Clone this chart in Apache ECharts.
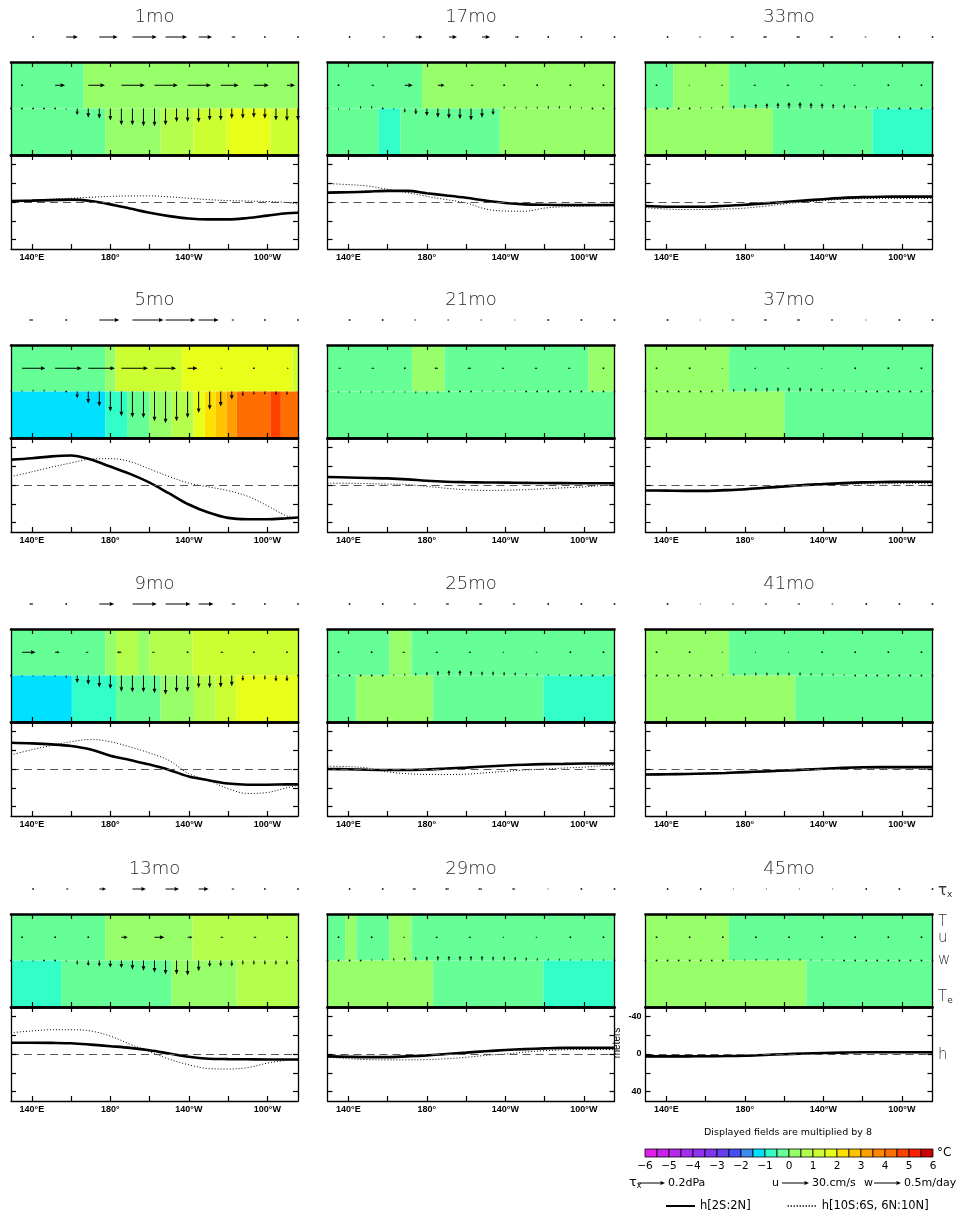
<!DOCTYPE html>
<html><head><meta charset="utf-8">
<script src="https://cdn.jsdelivr.net/npm/echarts@6/dist/echarts.min.js"></script>
<style>html,body{margin:0;padding:0;background:#fff}#c{width:959px;height:1214px}</style>
</head><body><div id="c"></div>
<script>
// ---------------- DATA ----------------
// panel order: row by row (1mo,17mo,33mo / 5mo,21mo,37mo / 9mo,25mo,41mo / 13mo,29mo,45mo)
const PANEL_TITLES = ['1mo','17mo','33mo','5mo','21mo','37mo','9mo','25mo','41mo','13mo','29mo','45mo'];
const LON_MIN = 129.375, LON_MAX = 275.625;
const X_TICKS = [140,160,180,200,220,240,260];
const X_LABELS = [140,180,220,260];
const H_TICKS = [-40,-20,0,20,40];
const H_LABELS = [-40,0,40];
const CBAR_EDGES = [-6,-5.5,-5,-4.5,-4,-3.5,-3,-2.5,-2,-1.5,-1,-0.5,0,0.5,1,1.5,2,2.5,3,3.5,4,4.5,5,5.5,6];
const PALETTE = ['#e11ee6','#cd1ef0','#b928f0','#a52df0','#9132f0','#7d37f0','#6440f0','#4650f0','#3c8cf0','#00e1ff','#32ffc8','#66ff96','#96ff6a','#b4ff4b','#ccff32','#e8ff1a','#ffe100','#ffc300','#ffa000','#ff8700','#ff6e00','#ff4100','#ff1e00','#c80000'];

// sea-surface temperature blocks (upper band) : [lonStart, lonEnd, value]
const T_BLOCKS = [
 [[129.375,166.4,-0.25],[166.4,275.625,0.25]],
 [[129.375,177.6,-0.25],[177.6,275.625,0.25]],
 [[129.375,143.5,-0.25],[143.5,172,0.25],[172,275.625,-0.25]],
 [[129.375,177.4,-0.25],[177.4,182.6,0.25],[182.6,216.6,1.25],[216.6,272.9,1.75],[272.9,275.625,1.25]],
 [[129.375,172.5,-0.25],[172.5,189,0.25],[189,262.3,-0.25],[262.3,275.625,0.25]],
 [[129.375,172,0.25],[172,275.625,-0.25]],
 [[129.375,177.4,-0.25],[177.4,182.9,0.25],[182.9,194.1,0.75],[194.1,199.9,0.25],[199.9,221.8,0.75],[221.8,275.625,1.25]],
 [[129.375,161.1,-0.25],[161.1,172.2,0.25],[172.2,275.625,-0.25]],
 [[129.375,172,0.25],[172,275.625,-0.25]],
 [[129.375,177.4,-0.25],[177.4,221.8,0.25],[221.8,275.625,0.75]],
 [[129.375,138.4,-0.25],[138.4,144,0.25],[144,161.1,-0.25],[161.1,172.2,0.25],[172.2,275.625,-0.25]],
 [[129.375,171.9,0.25],[171.9,275.625,-0.25]]
];
// entrained temperature blocks (lower band)
const TE_BLOCKS = [
 [[129.375,177.4,-0.25],[177.4,205.6,0.25],[205.6,222.3,0.75],[222.3,239.3,1.25],[239.3,261.5,1.75],[261.5,275.625,1.25]],
 [[129.375,155.5,-0.25],[155.5,166.5,-0.75],[166.5,217.2,-0.25],[217.2,275.625,0.25]],
 [[129.375,194.3,0.25],[194.3,245,-0.25],[245,275.625,-0.75]],
 [[129.375,177.4,-1.25],[177.4,188.5,-0.75],[188.5,199.9,-0.25],[199.9,211.2,0.25],[211.2,222.3,0.75],[222.3,228.1,1.75],[228.1,233.7,2.25],[233.7,239.3,2.75],[239.3,244.4,3.25],[244.4,261.5,4.25],[261.5,266.9,4.75],[266.9,275.625,4.25]],
 [[129.375,275.625,-0.25]],
 [[129.375,200.1,0.25],[200.1,275.625,-0.25]],
 [[129.375,160.4,-1.25],[160.4,182.9,-0.75],[182.9,205.6,-0.25],[205.6,222.6,0.25],[222.6,233.7,0.75],[233.7,244.4,1.25],[244.4,275.625,1.75]],
 [[129.375,144,-0.25],[144,183.2,0.25],[183.2,239.5,-0.25],[239.5,275.625,-0.75]],
 [[129.375,205.7,0.25],[205.7,275.625,-0.25]],
 [[129.375,154.9,-0.75],[154.9,211.2,-0.25],[211.2,244.4,0.25],[244.4,275.625,0.75]],
 [[129.375,183.2,0.25],[183.2,239.5,-0.25],[239.5,275.625,-0.75]],
 [[129.375,211.3,0.25],[211.3,275.625,-0.25]]
];

// wind stress tau_x (dPa)
const TAU_LON = [140.625,157.5,174.375,191.25,208.125,225,241.875,258.75,275.625];
const TAU = [
 [0.005,0.087,0.136,0.18,0.16,0.1,0.03,0.008,0.004],
 [0.004,0.02,0.05,0.06,0.06,0.03,0.008,0.004,0.003],
 [-0.005,-0.015,-0.025,-0.03,-0.03,-0.025,-0.015,-0.004,-0.003],
 [-0.03,0.005,0.148,0.23,0.22,0.148,0.02,0.005,0.003],
 [0.004,-0.008,-0.015,-0.015,-0.015,-0.01,-0.005,0.003,0.002],
 [-0.003,-0.01,-0.02,-0.025,-0.025,-0.02,-0.01,-0.003,-0.002],
 [-0.03,0.005,0.11,0.18,0.185,0.11,0.03,0.005,0.003],
 [0.002,-0.005,-0.02,-0.025,-0.025,-0.02,-0.005,-0.002,0.002],
 [-0.002,-0.01,-0.015,-0.02,-0.02,-0.015,-0.005,-0.002,-0.002],
 [0.005,0.02,0.05,0.1,0.1,0.074,0.02,0.005,0.003],
 [0.002,-0.005,-0.025,-0.03,-0.03,-0.025,-0.01,-0.002,0.002],
 [0.002,-0.005,-0.01,-0.01,-0.01,-0.01,-0.005,-0.002,-0.002]
];

// zonal current u (cm/s)
const U_LON = [135,151.875,168.75,185.625,202.5,219.375,236.25,253.125,270];
const U = [
 [1,11,18.5,26,26,26,20,16.7,9],
 [0.5,3,9,7.5,3,0.5,0.5,0.5,0.5],
 [-1,-1.5,-2,-3,-3,-2,-2,-1,-1],
 [26,29.6,29.6,29.6,24,11,2,1,2],
 [3,3,0.5,-4,-4,-3,-3,-3,-1],
 [-0.5,-1,-1.5,-2,-2,-1.5,-1,-1,-0.5],
 [15,5,-3,-5,-3,1,3,1,1],
 [-1,-1,-3,-3,-3,-2,-2,-1,-1],
 [-0.5,-1,-1.5,-1.5,-1.5,-1,-1,-0.5,-0.5],
 [0.5,1,1,7,11,5.5,3,3,1],
 [-1,-1,-2,-3,-3,-2,-2,-1,-1],
 [0,-0.5,-0.5,-1,-1,-1,-0.5,-0.5,0]
];

// vertical velocity w (m/day, positive = upward)
const W_LON = [129.375,135,140.625,146.25,151.875,157.5,163.125,168.75,174.375,180,185.625,191.25,196.875,202.5,208.125,213.75,219.375,225,230.625,236.25,241.875,247.5,253.125,258.75,264.375,270,275.625];
const W = [
 [0,0,0,0.01,0,-0.03,-0.12,-0.17,-0.19,-0.22,-0.31,-0.31,-0.33,-0.33,-0.31,-0.25,-0.25,-0.26,-0.22,-0.22,-0.19,-0.19,-0.17,-0.19,-0.22,-0.23,-0.22],
 [0,-0.03,-0.03,0.05,0.05,-0.02,-0.03,-0.08,-0.11,-0.14,-0.17,-0.19,-0.2,-0.22,-0.17,-0.12,0.04,0.04,0.04,0.04,0.05,0.05,0.05,0.03,-0.02,-0.02,0],
 [0,0.01,-0.01,0.02,0.02,0.03,0.03,0.05,0.06,0.08,0.09,0.1,0.11,0.12,0.12,0.11,0.1,0.09,0.08,0.06,0.05,0.03,0.02,0.01,0.01,0.01,0],
 [0.03,0.03,0.04,0.04,0.03,0,-0.12,-0.22,-0.28,-0.37,-0.46,-0.48,-0.49,-0.55,-0.59,-0.55,-0.49,-0.4,-0.34,-0.28,-0.15,-0.09,-0.06,-0.06,-0.07,-0.07,-0.03],
 [-0.02,-0.03,-0.03,-0.03,-0.03,-0.03,-0.03,-0.03,-0.04,-0.05,-0.04,-0.02,0.01,0.02,0.03,0.03,0.03,0.03,0.02,0.02,0.02,0.02,0.02,0.01,0.01,0.01,0],
 [0,0,0,0,0,0.01,0.02,0.04,0.05,0.06,0.07,0.08,0.08,0.08,0.08,0.07,0.06,0.05,0.04,0.03,0.02,0.01,0.01,0,0,0,0],
 [0,-0.03,-0.03,-0.03,-0.03,-0.05,-0.14,-0.17,-0.22,-0.25,-0.3,-0.31,-0.31,-0.33,-0.35,-0.31,-0.3,-0.23,-0.23,-0.22,-0.2,-0.1,-0.08,-0.08,-0.11,-0.11,-0.01],
 [0,0,0,0.01,0.02,0.02,0.03,0.04,0.05,0.07,0.09,0.1,0.1,0.09,0.08,0.08,0.07,0.06,0.05,0.04,0.03,0.03,0.02,0.02,0.02,0.02,0.01],
 [0,0,0,0,0,0.01,0.02,0.03,0.04,0.05,0.06,0.06,0.06,0.06,0.06,0.05,0.05,0.04,0.03,0.02,0.02,0.01,0.01,0,0,0,0],
 [0,-0.03,-0.03,-0.02,-0.02,-0.03,-0.08,-0.1,-0.11,-0.13,-0.14,-0.17,-0.19,-0.22,-0.26,-0.26,-0.28,-0.2,-0.12,-0.11,-0.11,-0.08,-0.08,-0.08,-0.08,-0.08,-0.01],
 [0.01,0.02,0.02,0.02,0.03,0.04,0.05,0.06,0.07,0.08,0.09,0.09,0.09,0.09,0.09,0.08,0.08,0.07,0.06,0.05,0.04,0.04,0.03,0.03,0.03,0.03,0.01],
 [0,0,0,0,0,0,0.01,0.02,0.03,0.03,0.04,0.04,0.04,0.04,0.04,0.03,0.03,0.03,0.02,0.02,0.01,0.01,0,0,0,0,0]
];

// thermocline depth anomaly h (m)
const H_LON = [129.375,140,150,160,170,180,190,200,210,220,230,240,250,260,270,275.625];
const H_EQ = [
 [-1,-1.5,-2,-2.5,-1,2.5,7,11.5,15,17.5,18.5,18.5,17,14.5,12,11.5],
 [-10,-10.4,-11,-11.8,-11.8,-9.3,-7,-4.5,-1.5,1,2.5,3,3.2,3.2,3.2,3.2],
 [4.3,5,5,5,4,3,1.5,0,-1.5,-3,-4.4,-5.2,-5.6,-5.7,-5.7,-5.7],
 [-27,-28.5,-30.5,-31.4,-27,-19.6,-11.8,-2.5,9,20.7,29.3,35,36.4,36.4,35.4,34.6],
 [-8.5,-8,-7.5,-7,-6,-4.5,-3.5,-3,-2.7,-2.5,-2.3,-2.1,-2,-1.9,-1.9,-1.9],
 [5.8,6,6.2,6.2,5.5,4.5,3,1.5,0,-1,-2,-2.8,-3.2,-3.4,-3.5,-3.5],
 [-28,-27.3,-26.2,-24.4,-20.7,-14.2,-9.5,-4.7,1,8,12,15.5,16.7,16.7,16.4,16.4],
 [0,0.3,0.8,1,1,0.5,-0.5,-1.5,-2.7,-3.7,-4.6,-5.2,-5.5,-5.8,-5.8,-5.8],
 [5.8,5.6,5.3,4.8,4.2,3.3,2.5,1.6,0.7,-0.3,-1.2,-1.8,-2,-2,-2,-2],
 [-12,-12,-11.8,-11.4,-10,-8.3,-6.5,-4,-0.5,3,5,5.4,5.6,5.8,5.8,5.8],
 [2.5,3,3.3,3.3,2.5,1.5,0,-1.5,-3,-4.2,-5.2,-6,-6.5,-6.5,-6.5,-6.5],
 [2.5,2.5,2.5,2.4,2.2,1.8,1,0.2,-0.5,-1,-1.5,-1.8,-1.8,-1.8,-1.8,-1.8]
];
const H_OFF = [
 [-1,-2,-3,-4,-5,-6,-6.5,-6.5,-5.5,-4,-2.5,-1.5,-1,-0.5,0.5,2.5],
 [-19.6,-18.5,-17,-13.5,-10,-6,-2.5,1,7.5,9.6,9.8,6.5,5,4.6,4.3,4.3],
 [6,7.5,8,8,7.5,6.5,4.5,2,0,-1.5,-3,-3.6,-3.8,-3.8,-3.8,-3.8],
 [-9,-14,-19,-23.5,-27.5,-28,-25,-17,-9,-2,2,6,12,22,33,34.5],
 [-2,-1.8,-1.5,-1,-0.5,1.5,3.5,5,5.8,5.5,5,4,3,2,0.5,-0.5],
 [6.5,6.8,7,7,6.5,5.5,4,2.5,1,0,-0.8,-1.2,-1.4,-1.5,-1.5,-1.5],
 [-15,-20.5,-25,-29,-31.5,-29,-23.5,-17,-9,5,12,21,26,25,20,17.5],
 [-3,-2.5,-1,3,5,5.8,5.8,5.5,4,2.5,1,0,-1,-2,-3.5,-3.8],
 [6.5,6.3,6,5.6,5,4.2,3.3,2.4,1.5,0.6,-0.2,-0.7,-0.9,-1,-1,-1],
 [-22.7,-24.5,-25.8,-25.8,-24.5,-19,-10.5,-2.5,5.5,11.5,15.5,16,14.5,9.7,6.7,6],
 [3.3,5,6,6.2,6.2,6,5,3.5,1.5,0,-2,-3.5,-4.5,-4.7,-4.7,-4.7],
 [3.5,3.3,3.2,3,2.8,2.4,1.6,0.6,-0.4,-1,-1.5,-1.6,-1.5,-1.4,-1.2,-1]
];
const NAME_EQ = 'h[2S:2N]', NAME_OFF = 'h[10S:6S, 6N:10N]';

// ---------------- LAYOUT / STYLE ----------------
const FONT = "'DejaVu Sans', 'Liberation Sans', sans-serif";
const AXFONT = "'Liberation Sans', Arial, sans-serif";
const COL_LEFT = [11, 327.5, 645.5];
const PANEL_W = 287;
const ROW_TOP = [62, 345, 629, 914];
const HEAT_H = 93, H_H = 94;
const KEY_PX = 27;                 // pixel length of the reference vectors
const REF = {tau: 0.2, u: 30, w: 0.5};

function colorOf(v){ let i = Math.floor((v + 6) / 0.5); i = Math.max(0, Math.min(23, i)); return PALETTE[i]; }
function lonFmt(v){ return v < 180 ? v + '°E' : (v === 180 ? '180°' : (360 - v) + '°W'); }

function arrowShape(x, y, dx, dy){
  const len = Math.hypot(dx, dy);
  if (len < 1.3) return [{type:'rect', shape:{x:x-0.8, y:y-0.8, width:1.6, height:1.6}, style:{fill:'#000'}}];
  const ux = dx/len, uy = dy/len;
  const hl = Math.min(4.5, len*0.55), hw = Math.min(1.9, hl*0.5);
  const ex = x+dx, ey = y+dy, bx = ex-ux*hl, by = ey-uy*hl;
  return [
    {type:'line', shape:{x1:x, y1:y, x2:bx, y2:by}, style:{stroke:'#000', lineWidth:1}},
    {type:'polygon', shape:{points:[[ex,ey],[bx-uy*hw, by+ux*hw],[bx+uy*hw, by-ux*hw]]}, style:{fill:'#000'}}
  ];
}
function arrowRender(kind){
  return function(params, api){
    const p = api.coord([api.value(0), api.value(2)]);
    const L = api.value(1) / REF[kind] * KEY_PX;
    const d = kind === 'w' ? [0, -L] : [L, 0];
    return {type:'group', children: arrowShape(p[0], p[1], d[0], d[1])};
  };
}
function blockRender(params, api){
  const a = api.coord([api.value(0), api.value(2) + 1]);
  const b = api.coord([api.value(1), api.value(2)]);
  return {type:'rect', shape:{x:a[0], y:a[1], width:b[0]-a[0], height:b[1]-a[1]}, style:{fill: colorOf(api.value(3))}};
}

const option = {animation:false, backgroundColor:'#fff', color:['#000'], grid:[], xAxis:[], yAxis:[], series:[], graphic:[]};
const AX_LINE = (w) => ({show:true, onZero:false, lineStyle:{color:'#000', width:w}});
const TICK = (vals) => ({show:true, inside:true, length:5, customValues: vals, lineStyle:{color:'#000', width:1.2}});

for (let p = 0; p < 12; p++) {
  const r = Math.floor(p / 3), c = p % 3;
  const left = COL_LEFT[c], top = ROW_TOP[r];

  // title
  option.graphic.push({type:'text', x:left + PANEL_W/2, y:top - 45, z:10,
    style:{text:PANEL_TITLES[p], align:'center', verticalAlign:'middle', font:'300 18px ' + FONT, fill:'#2a2a2a'}});

  // --- tau_x strip
  const gT = option.grid.length;
  option.grid.push({left, top: top - 35, width: PANEL_W, height: 20});
  const xT = option.xAxis.length;
  option.xAxis.push({gridIndex:gT, type:'value', min:LON_MIN, max:LON_MAX, show:false});
  const yT = option.yAxis.length;
  option.yAxis.push({gridIndex:gT, type:'value', min:0, max:1, show:false});
  option.series.push({type:'custom', xAxisIndex:xT, yAxisIndex:yT, silent:true, z:3,
    renderItem: arrowRender('tau'), encode:{x:0, y:2},
    data: TAU_LON.map((x, j) => [x, TAU[p][j], 0.5])});

  // --- T / Te heat band
  const gH = option.grid.length;
  option.grid.push({left, top, width: PANEL_W, height: HEAT_H});
  const xHb = option.xAxis.length;
  option.xAxis.push({gridIndex:gH, type:'value', min:LON_MIN, max:LON_MAX, position:'bottom', z:6,
    axisLine:AX_LINE(2.6), axisTick:TICK(X_TICKS), axisLabel:{show:false}, splitLine:{show:false}});
  option.xAxis.push({gridIndex:gH, type:'value', min:LON_MIN, max:LON_MAX, position:'top', z:6,
    axisLine:AX_LINE(2.6), axisTick:TICK(X_TICKS), axisLabel:{show:false}, splitLine:{show:false}});
  const yHl = option.yAxis.length;
  option.yAxis.push({gridIndex:gH, type:'value', min:0, max:2, position:'left', z:6,
    axisLine:AX_LINE(1.3), axisTick:{show:false}, axisLabel:{show:false}, splitLine:{show:false}});
  option.yAxis.push({gridIndex:gH, type:'value', min:0, max:2, position:'right', z:6,
    axisLine:AX_LINE(1.3), axisTick:{show:false}, axisLabel:{show:false}, splitLine:{show:false}});
  option.series.push({type:'custom', xAxisIndex:xHb, yAxisIndex:yHl, silent:true, z:1,
    renderItem: blockRender, encode:{x:[0,1], y:2},
    data: T_BLOCKS[p].map(s => [s[0], s[1], 1, s[2]]).concat(TE_BLOCKS[p].map(s => [s[0], s[1], 0, s[2]]))});
  option.series.push({type:'custom', xAxisIndex:xHb, yAxisIndex:yHl, silent:true, z:3,
    renderItem: arrowRender('u'), encode:{x:0, y:2},
    data: U_LON.map((x, j) => [x, U[p][j], 1.5])});
  option.series.push({type:'custom', xAxisIndex:xHb, yAxisIndex:yHl, silent:true, z:3,
    renderItem: arrowRender('w'), encode:{x:0, y:2},
    data: W_LON.map((x, j) => [x, W[p][j], 1])});

  // --- h panel
  const gh = option.grid.length;
  option.grid.push({left, top: top + HEAT_H, width: PANEL_W, height: H_H});
  const xhb = option.xAxis.length;
  option.xAxis.push({gridIndex:gh, type:'value', min:LON_MIN, max:LON_MAX, position:'bottom', z:6,
    axisLine:AX_LINE(1.3), axisTick:TICK(X_TICKS), splitLine:{show:false},
    axisLabel:{show:true, customValues:X_LABELS, formatter: lonFmt, margin:4, color:'#000',
      fontSize:9, fontWeight:'bold', fontFamily:AXFONT}});
  option.xAxis.push({gridIndex:gh, type:'value', min:LON_MIN, max:LON_MAX, position:'top', z:6,
    axisLine:AX_LINE(2.6), axisTick:TICK(X_TICKS), axisLabel:{show:false}, splitLine:{show:false}});
  const yhl = option.yAxis.length;
  const showY = (p === 11);
  option.yAxis.push({gridIndex:gh, type:'value', min:-50, max:50, inverse:true, position:'left', z:6,
    axisLine:AX_LINE(1.3), axisTick:TICK(H_TICKS), splitLine:{show:false},
    name: showY ? 'meters' : '', nameLocation:'middle', nameGap:23, nameRotate:90,
    nameTextStyle:{fontSize:10, fontFamily:AXFONT, color:'#000', padding:[0,0,0,22]},
    axisLabel:{show:showY, customValues:H_LABELS, margin:4, color:'#000', fontSize:9, fontWeight:'bold', fontFamily:AXFONT}});
  option.yAxis.push({gridIndex:gh, type:'value', min:-50, max:50, inverse:true, position:'right', z:6,
    axisLine:AX_LINE(1.3), axisTick:TICK(H_TICKS), axisLabel:{show:false}, splitLine:{show:false}});
  option.series.push({type:'line', name:NAME_OFF, xAxisIndex:xhb, yAxisIndex:yhl, silent:true, z:3,
    smooth:0.35, symbol:'none', itemStyle:{color:'#000'}, lineStyle:{color:'#000', width:1, type:[1,2]},
    data: H_LON.map((x, j) => [x, H_OFF[p][j]]),
    markLine:{silent:true, symbol:['none','none'], label:{show:false},
      lineStyle:{color:'#555', width:1, type:[8,5]}, data:[{yAxis:0}]}});
  option.series.push({type:'line', name:NAME_EQ, xAxisIndex:xhb, yAxisIndex:yhl, silent:true, z:4,
    smooth:0.35, symbol:'none', itemStyle:{color:'#000'}, lineStyle:{color:'#000', width:2.6},
    data: H_LON.map((x, j) => [x, H_EQ[p][j]])});
}

// ---------------- COLOUR BAR ----------------
const gC = option.grid.length;
option.grid.push({left:645, top:1149, width:288, height:8});
const xC = option.xAxis.length;
option.xAxis.push({gridIndex:gC, type:'value', min:-6, max:6, interval:1,
  axisLine:{show:false}, axisTick:{show:false}, splitLine:{show:false},
  axisLabel:{margin:4, fontSize:10.5, color:'#000', fontFamily:FONT, formatter: v => (v < 0 ? '\u2212' + (-v) : '' + v)}});
const yC = option.yAxis.length;
option.yAxis.push({gridIndex:gC, type:'value', min:0, max:1, show:false});
option.series.push({type:'custom', xAxisIndex:xC, yAxisIndex:yC, silent:true, encode:{x:[0,1]},
  renderItem: function(params, api){
    const a = api.coord([api.value(0), 1]), b = api.coord([api.value(1), 0]);
    return {type:'rect', shape:{x:a[0], y:a[1], width:b[0]-a[0], height:b[1]-a[1]},
      style:{fill: colorOf(api.value(2)), stroke:'#000', lineWidth:0.8}};
  },
  data: CBAR_EDGES.slice(0, -1).map((e, i) => [e, CBAR_EDGES[i+1], (e + CBAR_EDGES[i+1]) / 2])});

// ---------------- LEGEND ----------------
option.legend = {show:true, left:660, top:1195, itemWidth:29, itemHeight:12, itemGap:36, selectedMode:false,
  itemStyle:{opacity:0}, data:[NAME_EQ, NAME_OFF], textStyle:{fontSize:11.5, color:'#000', fontFamily:FONT}};

const G = option.graphic;
G.push({type:'text', x:788, y:1133, style:{text:'Displayed fields are multiplied by 8', align:'center', verticalAlign:'middle', font:'9.5px ' + FONT, fill:'#000'}});
G.push({type:'text', x:937, y:1153, style:{text:'°C', align:'left', verticalAlign:'middle', font:'12px ' + FONT, fill:'#000'}});
// vector keys
function keyArrow(x, y){ return {type:'group', children: arrowShape(x, y, KEY_PX, 0)}; }
const KF = '11px ' + FONT;
G.push({type:'text', x:629, y:1183, style:{rich:{a:{fontSize:13, fontFamily:FONT, fill:'#000'}, s:{fontSize:8, fontFamily:FONT, fill:'#000', padding:[6,0,0,0]}}, text:'{a|τ}{s|x}', verticalAlign:'middle'}});
G.push(keyArrow(638, 1183));
G.push({type:'text', x:668, y:1183, style:{text:'0.2dPa', verticalAlign:'middle', font:KF, fill:'#000'}});
G.push({type:'text', x:772, y:1183, style:{text:'u', verticalAlign:'middle', font:KF, fill:'#000'}});
G.push(keyArrow(782, 1183));
G.push({type:'text', x:812, y:1183, style:{text:'30.cm/s', verticalAlign:'middle', font:KF, fill:'#000'}});
G.push({type:'text', x:864, y:1183, style:{text:'w', verticalAlign:'middle', font:KF, fill:'#000'}});
G.push(keyArrow(874, 1183));
G.push({type:'text', x:904, y:1183, style:{text:'0.5m/day', verticalAlign:'middle', font:KF, fill:'#000'}});
// right-side field labels (last row)
const RT = ROW_TOP[3];
G.push({type:'text', x:938, y:RT - 23, style:{rich:{a:{fontSize:15, fontFamily:FONT, fill:'#333'}, s:{fontSize:9, fontFamily:FONT, fill:'#333', padding:[8,0,0,0]}}, text:'{a|τ}{s|x}', verticalAlign:'middle'}});
[['T', 8], ['u', 24], ['w', 46], ['h', 141]].forEach(([t, dy]) => G.push({type:'text', x:938, y:RT + dy,
  style:{text:t, verticalAlign:'middle', font:'300 15px ' + FONT, fill:'#333'}}));
G.push({type:'text', x:938, y:RT + 83, style:{rich:{a:{fontSize:15, fontWeight:300, fontFamily:FONT, fill:'#333'}, s:{fontSize:9, fontFamily:FONT, fill:'#333', padding:[8,0,0,0]}}, text:'{a|T}{s|e}', verticalAlign:'middle'}});

const chart = echarts.init(document.getElementById('c'), null, {renderer:'canvas'});
chart.setOption(option);
</script></body></html>
